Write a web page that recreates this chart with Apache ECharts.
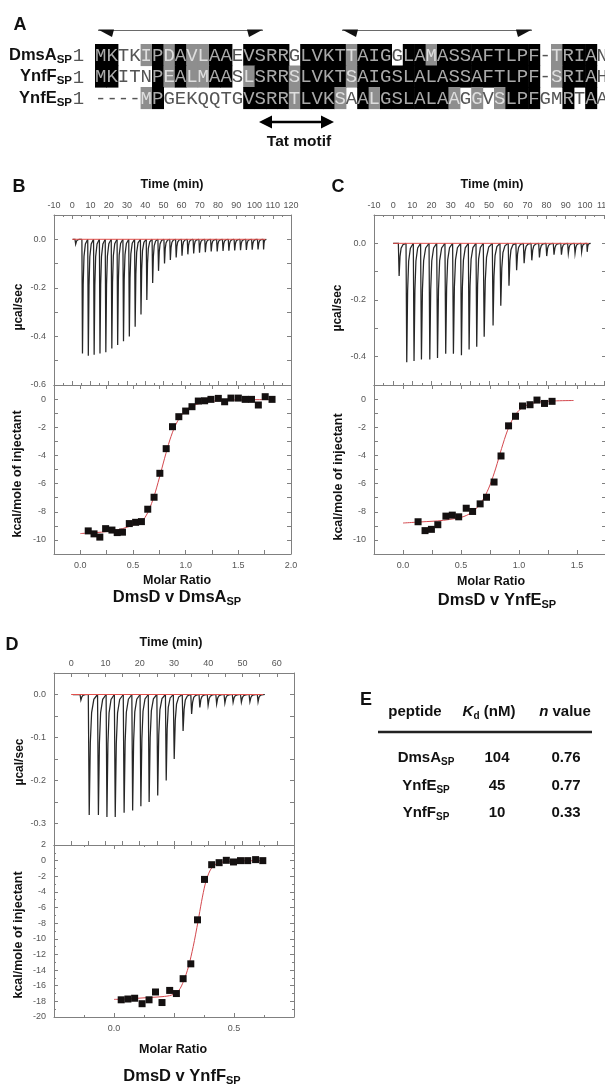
<!DOCTYPE html>
<html><head><meta charset="utf-8">
<script src="https://cdn.jsdelivr.net/npm/echarts@6/dist/echarts.min.js"></script>
<style>html,body{margin:0;padding:0;background:#fff}#c{width:605px;height:1084px}</style>
</head><body><div id="c"></div>
<script>
// ---------- Panel A : alignment ----------
const seqNames = ['DmsA', 'YnfF', 'YnfE'];
const seqs = [
  'MKTKIPDAVLAAEVSRRGLVKTTAIGGLAMASSAFTLPF-TRIAN',
  'MKITNPEALMAASLSRRSLVKTSAIGSLALASSAFTLPF-SRIAH',
  '----MPGEKQQTGVSRRTLVKSAALGSLALAAGGVSLPFGMRTAA'
];
const shade = [
  ['BBwwg','BgBgg','BBwBB','BBwBB','BBgBB','BwBBg','BBBBB','BBBBw','gBBBw'].join(''),
  ['BBwww','BgBgg','BBwgB','BBgBB','BBgBB','BBBBB','BBBBB','BBBBw','gBBBw'].join(''),
  ['wwwwg','Bwwww','wwwBB','BBgBB','BgwBg','BBBBB','Bgwgw','gBBBw','wBwBw'].join('')
];

// ---------- Panel B : DmsD v DmsA_SP ----------
const bInjTime = [1.5,5.3,8.5,11.7,14.9,18.1,21.4,24.6,27.8,31.0,34.2,37.4,40.6,43.8,47.0,50.3,53.5,56.7,59.9,63.1,66.3,69.5,72.7,75.9,79.2,82.4,85.6,88.8,92.0,95.2,98.4,101.6,104.8];
const bInjDepth = [-0.02,-0.47,-0.48,-0.475,-0.47,-0.465,-0.45,-0.435,-0.42,-0.40,-0.36,-0.31,-0.25,-0.18,-0.13,-0.10,-0.085,-0.075,-0.068,-0.062,-0.058,-0.055,-0.053,-0.05,-0.05,-0.048,-0.047,-0.046,-0.045,-0.044,-0.043,-0.042,-0.042];
const bTraceRange = [0.3, 106.5];
const bBaseline = [[0, 0], [106, 0]];
const bRatio = [0.075,0.13,0.185,0.24,0.30,0.35,0.40,0.465,0.525,0.58,0.64,0.70,0.755,0.815,0.875,0.935,1.0,1.06,1.12,1.18,1.24,1.31,1.37,1.43,1.50,1.565,1.625,1.69,1.755,1.82];
const bHeat = [-9.36,-9.57,-9.8,-9.2,-9.3,-9.48,-9.45,-8.84,-8.75,-8.7,-7.82,-6.97,-5.27,-3.52,-1.96,-1.25,-0.85,-0.54,-0.14,-0.12,-0.02,0.05,-0.19,0.07,0.07,-0.02,-0.02,-0.42,0.17,-0.02];
const bFit = [[0.0,-9.55],[0.1,-9.5],[0.2,-9.45],[0.3,-9.35],[0.4,-9.2],[0.5,-8.95],[0.55,-8.8],[0.6,-8.55],[0.65,-7.9],[0.7,-6.9],[0.75,-5.6],[0.8,-4.2],[0.85,-2.9],[0.9,-1.9],[0.95,-1.25],[1.0,-0.8],[1.05,-0.55],[1.1,-0.38],[1.2,-0.2],[1.3,-0.12],[1.4,-0.08],[1.5,-0.06],[1.6,-0.05],[1.7,-0.04],[1.84,-0.03]];

// ---------- Panel C : DmsD v YnfE_SP ----------
const cInjTime = [2.7,6.7,10.5,14.3,18.7,22.7,27.0,31.0,35.2,39.2,43.2,47.0,51.7,55.7,60.0,64.0,67.9,71.9,75.9,79.7,83.5,87.4,91.0,94.5,98.0,101.0];
const cInjDepth = [-0.115,-0.42,-0.415,-0.41,-0.41,-0.405,-0.39,-0.39,-0.395,-0.375,-0.365,-0.33,-0.29,-0.22,-0.15,-0.095,-0.07,-0.06,-0.05,-0.045,-0.04,-0.04,-0.035,-0.035,-0.03,-0.03];
const cTraceRange = [0, 103];
const cBaseline = [[0, 0], [102, 0]];
const cRatio = [0.13,0.19,0.245,0.30,0.37,0.425,0.48,0.545,0.60,0.665,0.72,0.785,0.845,0.91,0.97,1.03,1.095,1.155,1.22,1.285];
const cHeat = [-8.71,-9.34,-9.25,-8.92,-8.31,-8.24,-8.36,-7.75,-7.98,-7.44,-6.97,-5.89,-4.04,-1.9,-1.22,-0.49,-0.4,-0.07,-0.31,-0.16];
const cFit = [[0.0,-8.8],[0.1,-8.75],[0.2,-8.7],[0.3,-8.65],[0.4,-8.55],[0.5,-8.4],[0.55,-8.25],[0.6,-8.0],[0.65,-7.6],[0.7,-7.0],[0.75,-6.1],[0.8,-4.9],[0.85,-3.5],[0.9,-2.25],[0.95,-1.35],[1.0,-0.8],[1.05,-0.5],[1.1,-0.32],[1.2,-0.18],[1.3,-0.13],[1.47,-0.1]];

// ---------- Panel D : DmsD v YnfF_SP ----------
const dInjTime = [2.6,5.0,7.7,10.2,12.6,15.2,17.7,20.1,22.5,25.0,27.5,29.8,32.4,34.9,37.3,39.7,42.2,44.6,47.0,49.4,51.9,54.3];
const dInjDepth = [-0.013,-0.28,-0.28,-0.285,-0.285,-0.275,-0.27,-0.26,-0.25,-0.235,-0.20,-0.15,-0.085,-0.045,-0.03,-0.025,-0.022,-0.02,-0.018,-0.018,-0.017,-0.017];
const dTraceRange = [0.5, 56.5];
const dBaseline = [[0, 0], [56, 0]];
const dRatio = [0.03,0.058,0.086,0.117,0.146,0.173,0.20,0.232,0.26,0.288,0.32,0.348,0.377,0.407,0.438,0.468,0.498,0.527,0.557,0.59,0.62];
const dHeat = [-17.8,-17.7,-17.6,-18.3,-17.8,-16.8,-18.15,-16.6,-17.0,-15.1,-13.2,-7.57,-2.4,-0.52,-0.26,0.04,-0.17,0,0,0.13,0];
const dFit = [[0.0,-17.75],[0.05,-17.7],[0.1,-17.6],[0.15,-17.5],[0.2,-17.4],[0.24,-17.2],[0.27,-16.6],[0.29,-15.4],[0.31,-13.6],[0.33,-11.0],[0.35,-7.8],[0.365,-5.2],[0.38,-3.0],[0.395,-1.6],[0.41,-0.8],[0.43,-0.35],[0.46,-0.15],[0.5,-0.06],[0.55,-0.02],[0.63,0]];

// ---------- Panel E : table ----------
const tblPeptide = ['DmsA', 'YnfE', 'YnfF'];
const tblKd = ['104', '45', '10'];
const tblN = ['0.76', '0.77', '0.33'];

// ======================================================
const FONT = '"Liberation Sans", Arial, sans-serif';
const MONO = '"Liberation Mono", "Courier New", monospace';
const AXC = '#808080';
const grids = [], xAxes = [], yAxes = [], series = [];

// alignment grid
grids.push({left: 95, top: 44, width: 513, height: 64.5, outerBoundsMode: 'none', containLabel: false});
xAxes.push({type: 'category', gridIndex: 0, data: seqs[0].split('').map((_, i) => i), show: false});
yAxes.push({type: 'category', gridIndex: 0, data: [0, 1, 2], inverse: true, show: false});
const alignCells = [];
for (let r = 0; r < seqs.length; r++) for (let c = 0; c < seqs[r].length; c++) alignCells.push([c, r]);
series.push({
  type: 'custom', xAxisIndex: 0, yAxisIndex: 0, data: alignCells, silent: true,
  renderItem: function (params, api) {
    const c = api.value(0), r = api.value(1);
    const p = api.coord([c, r]);
    const s = api.size([1, 1]);
    const code = shade[r][c];
    const ch = seqs[r][c];
    const kids = [];
    if (code !== 'w') {
      kids.push({type: 'rect', shape: {x: p[0] - s[0] / 2, y: p[1] - s[1] / 2, width: s[0] + 0.6, height: s[1] + 0.6},
        style: {fill: code === 'B' ? '#000' : '#8e8e8e'}});
    }
    kids.push({type: 'text', x: p[0], y: p[1] + 1,
      style: {text: ch, font: '19px ' + MONO, fill: code === 'B' ? '#a9a9a9' : (code === 'g' ? '#dedede' : '#555'),
        align: 'center', verticalAlign: 'middle', textAlign: 'center', textVerticalAlign: 'middle'}});
    return {type: 'group', children: kids};
  }
});

const opp = {top: 'bottom', bottom: 'top', left: 'right', right: 'left'};
function axisPair(gi, s, pos, isX) {
  const common = {
    type: 'value', gridIndex: gi, min: s.min, max: s.max, interval: s.interval,
    axisLine: {show: true, onZero: false, lineStyle: {color: AXC, width: 1}},
    axisTick: {show: true, inside: true, length: 4, lineStyle: {color: AXC, width: 1}},
    minorTick: {show: !!s.minor, splitNumber: s.minor || 2, length: 2, lineStyle: {color: AXC}},
    splitLine: {show: false}, minorSplitLine: {show: false}, silent: true
  };
  const main = Object.assign({}, common, {position: pos,
    axisLabel: {show: true, formatter: s.fmt, margin: s.margin, fontSize: 9, color: '#555', fontFamily: FONT,
      showMinLabel: true, showMaxLabel: true}});
  const mirror = Object.assign({}, common, {position: opp[pos], axisLabel: {show: false}});
  const arr = isX ? xAxes : yAxes;
  const idx = arr.length;
  arr.push(main, mirror);
  return idx;
}
const fmtTime = v => { const k = Math.round(v); return k % 10 === 0 ? String(k) : ''; };
const fmtEven1 = v => { const k = Math.round(v * 10); return k % 2 === 0 ? (k / 10).toFixed(1) : ''; };
const fmtTenth = v => { const k = Math.round(v * 100); return k % 10 === 0 ? (k / 100).toFixed(1) : ''; };
const fmtEvenInt = v => { const k = Math.round(v); return k % 2 === 0 ? String(k) : ''; };
const fmtInt = v => String(Math.round(v));
const fmtMolar = v => { const k = Math.round(v * 4); return k % 2 === 0 ? (k / 4).toFixed(1) : ''; };

function traceRender(times, range) {
  return function (params, api) {
    const i = params.dataIndex;
    const t = times[i], d = api.value(1);
    const tn = i + 1 < times.length ? times[i + 1] : range[1];
    const g = tn - t;
    const pts = [];
    if (i === 0) pts.push(api.coord([range[0], 0]));
    [[0, 0], [0.1, 1], [0.22, 0.4], [0.36, 0.15], [0.6, 0.04], [1, 0]].forEach(function (fm) {
      pts.push(api.coord([t + fm[0] * g, d * fm[1]]));
    });
    return {type: 'polyline', shape: {points: pts}, style: {stroke: '#262626', lineWidth: 1.25, fill: 'none'}};
  };
}

function addPanel(cfg) {
  const gt = grids.length;
  grids.push(Object.assign({outerBoundsMode: 'none', containLabel: false}, cfg.topGrid));
  const xt = axisPair(gt, cfg.timeAx, 'top', true);
  const yt = axisPair(gt, cfg.powAx, 'left', false);
  series.push({type: 'custom', xAxisIndex: xt, yAxisIndex: yt, clip: true, silent: true,
    renderItem: traceRender(cfg.times, cfg.range),
    data: cfg.times.map((t, i) => [t, cfg.depth[i]])});
  series.push({type: 'line', xAxisIndex: xt, yAxisIndex: yt, data: cfg.base, symbol: 'none', silent: true,
    lineStyle: {color: '#e2504c', width: 1}, z: 3});
  const gb = grids.length;
  grids.push(Object.assign({outerBoundsMode: 'none', containLabel: false}, cfg.botGrid));
  const xb = axisPair(gb, cfg.molAx, 'bottom', true);
  const yb = axisPair(gb, cfg.heatAx, 'left', false);
  series.push({type: 'line', xAxisIndex: xb, yAxisIndex: yb, data: cfg.fit, symbol: 'none', smooth: 0.3, silent: true,
    lineStyle: {color: '#d4484e', width: 1}, z: 2});
  series.push({type: 'scatter', xAxisIndex: xb, yAxisIndex: yb, symbol: 'rect', symbolSize: 7, silent: true,
    data: cfg.ratio.map((x, i) => [x, cfg.heat[i]]), itemStyle: {color: '#141010', opacity: 1}, z: 3});
}

addPanel({
  topGrid: {left: 54, top: 215, width: 237, height: 170},
  botGrid: {left: 54, top: 385, width: 237, height: 169},
  timeAx: {min: -10, max: 120, interval: 10, minor: 2, fmt: fmtTime, margin: 5},
  powAx: {min: -0.6, max: 0.1, interval: 0.1, fmt: fmtEven1, margin: 8},
  molAx: {min: -0.25, max: 2.0, interval: 0.25, fmt: fmtMolar, margin: 7},
  heatAx: {min: -11, max: 1, interval: 1, fmt: fmtEvenInt, margin: 8},
  times: bInjTime, depth: bInjDepth, range: bTraceRange, base: bBaseline,
  ratio: bRatio, heat: bHeat, fit: bFit
});
addPanel({
  topGrid: {left: 374, top: 215, width: 232, height: 170},
  botGrid: {left: 374, top: 385, width: 232, height: 169},
  timeAx: {min: -10, max: 111, interval: 10, minor: 2, fmt: fmtTime, margin: 5},
  powAx: {min: -0.5, max: 0.1, interval: 0.1, fmt: fmtEven1, margin: 8},
  molAx: {min: -0.25, max: 1.75, interval: 0.25, fmt: fmtMolar, margin: 7},
  heatAx: {min: -11, max: 1, interval: 1, fmt: fmtEvenInt, margin: 8},
  times: cInjTime, depth: cInjDepth, range: cTraceRange, base: cBaseline,
  ratio: cRatio, heat: cHeat, fit: cFit
});
addPanel({
  topGrid: {left: 54, top: 673, width: 240, height: 172},
  botGrid: {left: 54, top: 845, width: 240, height: 172},
  timeAx: {min: -5, max: 65, interval: 5, minor: 0, fmt: fmtTime, margin: 5},
  powAx: {min: -0.35, max: 0.05, interval: 0.05, fmt: fmtTenth, margin: 8},
  molAx: {min: -0.25, max: 0.75, interval: 0.25, minor: 2, fmt: fmtMolar, margin: 7},
  heatAx: {min: -20, max: 2, interval: 2, minor: 2, fmt: fmtInt, margin: 8},
  times: dInjTime, depth: dInjDepth, range: dTraceRange, base: dBaseline,
  ratio: dRatio, heat: dHeat, fit: dFit
});

// ---------- graphic text / decorations ----------
function txt(x, y, text, size, weight, opt) {
  opt = opt || {};
  const al = opt.align || 'center';
  return {type: 'text', x: x, y: y, rotation: opt.rot || 0, silent: true,
    style: {text: text, font: (opt.style || '') + ' ' + (weight || 'normal') + ' ' + size + 'px ' + (opt.family || FONT),
      fill: opt.fill || '#111', align: al, textAlign: al, verticalAlign: 'middle', textVerticalAlign: 'middle'}};
}
function subTxt(x, y, main, sub, size, subSize, pad, align, tail) {
  const al = align || 'center';
  const rich = {
    m: {fontSize: size, fontWeight: 'bold', fontFamily: FONT, fill: '#111', color: '#111'},
    s: {fontSize: subSize, fontWeight: 'bold', fontFamily: FONT, fill: '#111', color: '#111', padding: [pad, 0, 0, 0]},
    t: {fontSize: size, fontWeight: 'bold', fontFamily: FONT, fill: '#111', color: '#111'},
    i: {fontSize: size, fontWeight: 'bold', fontStyle: 'italic', fontFamily: FONT, fill: '#111', color: '#111'}
  };
  return {type: 'text', x: x, y: y, silent: true,
    style: {text: main + '{s|' + sub + '}' + (tail || ''), rich: rich, font: 'bold ' + size + 'px ' + FONT,
      fill: '#111', align: al, textAlign: al, verticalAlign: 'middle', textVerticalAlign: 'middle'}};
}
const G = [];
G.push(txt(20, 25, 'A', 18, 'bold'), txt(19, 187, 'B', 18, 'bold'), txt(338, 187, 'C', 18, 'bold'),
  txt(12, 645, 'D', 18, 'bold'), txt(366, 700, 'E', 18, 'bold'));
const rowY = [55, 76.5, 98];
seqNames.forEach((n, i) => {
  G.push(subTxt(72, rowY[i], '{m|' + n + '}', 'SP', 16.5, 11.5, 9, 'right'));
  G.push(txt(78.5, rowY[i] + 1, '1', 19, 'normal', {family: MONO, fill: '#555'}));
});
function helix(x1, x2) {
  G.push({type: 'line', silent: true, shape: {x1: x1, y1: 30.5, x2: x2, y2: 30.5}, style: {stroke: '#6a6a6a', lineWidth: 1.2}});
  G.push({type: 'polygon', silent: true, shape: {points: [[x1, 29.5], [x1 + 16, 29.5], [x1 + 14, 37]]}, style: {fill: '#111'}});
  G.push({type: 'polygon', silent: true, shape: {points: [[x2, 29.5], [x2 - 16, 29.5], [x2 - 14, 37]]}, style: {fill: '#111'}});
}
helix(98, 263);
helix(342, 532);
G.push({type: 'line', silent: true, shape: {x1: 268, y1: 122, x2: 325, y2: 122}, style: {stroke: '#000', lineWidth: 2.6}});
G.push({type: 'polygon', silent: true, shape: {points: [[259, 122], [272, 115.5], [272, 128.5]]}, style: {fill: '#000'}});
G.push({type: 'polygon', silent: true, shape: {points: [[334, 122], [321, 115.5], [321, 128.5]]}, style: {fill: '#000'}});
G.push(txt(299, 142, 'Tat motif', 15.5, 'bold'));

function titles(t) {
  G.push(txt(t.time[0], t.time[1], 'Time (min)', 12.5, 'bold'));
  G.push(txt(t.pow[0], t.pow[1], '\u00b5cal/sec', 12, 'bold', {rot: Math.PI / 2}));
  G.push(txt(t.heat[0], t.heat[1], 'kcal/mole of injectant', 12.5, 'bold', {rot: Math.PI / 2}));
  G.push(txt(t.mol[0], t.mol[1], 'Molar Ratio', 12.5, 'bold'));
  G.push(subTxt(t.title[0], t.title[1], '{m|DmsD v ' + t.name + '}', 'SP', 16.5, 11, 9, 'center'));
}
titles({time: [172, 185], pow: [19, 307], heat: [18, 474], mol: [177, 581], title: [177, 597], name: 'DmsA'});
titles({time: [492, 185], pow: [338, 308], heat: [339, 477], mol: [491, 582], title: [497, 600], name: 'YnfE'});
titles({time: [171, 643], pow: [20, 762], heat: [19, 935], mol: [173, 1050], title: [182, 1076], name: 'YnfF'});

G.push(txt(415, 712, 'peptide', 15, 'bold'));
G.push(subTxt(489, 712, '{i|K}', 'd', 15, 10, 8, 'center', '{t| (nM)}'));
G.push({type: 'text', x: 565, y: 712, silent: true,
  style: {text: '{i|n}{t| value}', font: 'bold 15px ' + FONT, fill: '#111', align: 'center', textAlign: 'center',
    verticalAlign: 'middle', textVerticalAlign: 'middle',
    rich: {i: {fontSize: 15, fontWeight: 'bold', fontStyle: 'italic', fontFamily: FONT, fill: '#111'},
      t: {fontSize: 15, fontWeight: 'bold', fontFamily: FONT, fill: '#111'}}}});
G.push({type: 'line', silent: true, shape: {x1: 378, y1: 732, x2: 592, y2: 732}, style: {stroke: '#222', lineWidth: 2.6}});
const tblY = [758, 786, 813];
tblPeptide.forEach((p, i) => {
  G.push(subTxt(426, tblY[i], '{m|' + p + '}', 'SP', 15, 10, 8, 'center'));
  G.push(txt(497, tblY[i], tblKd[i], 15, 'bold'));
  G.push(txt(566, tblY[i], tblN[i], 15, 'bold'));
});

const chart = echarts.init(document.getElementById('c'), null, {renderer: 'canvas', devicePixelRatio: 1});
chart.setOption({
  animation: false,
  backgroundColor: '#fff',
  grid: grids, xAxis: xAxes, yAxis: yAxes, series: series,
  graphic: {elements: G}
});
</script>
</body></html>
